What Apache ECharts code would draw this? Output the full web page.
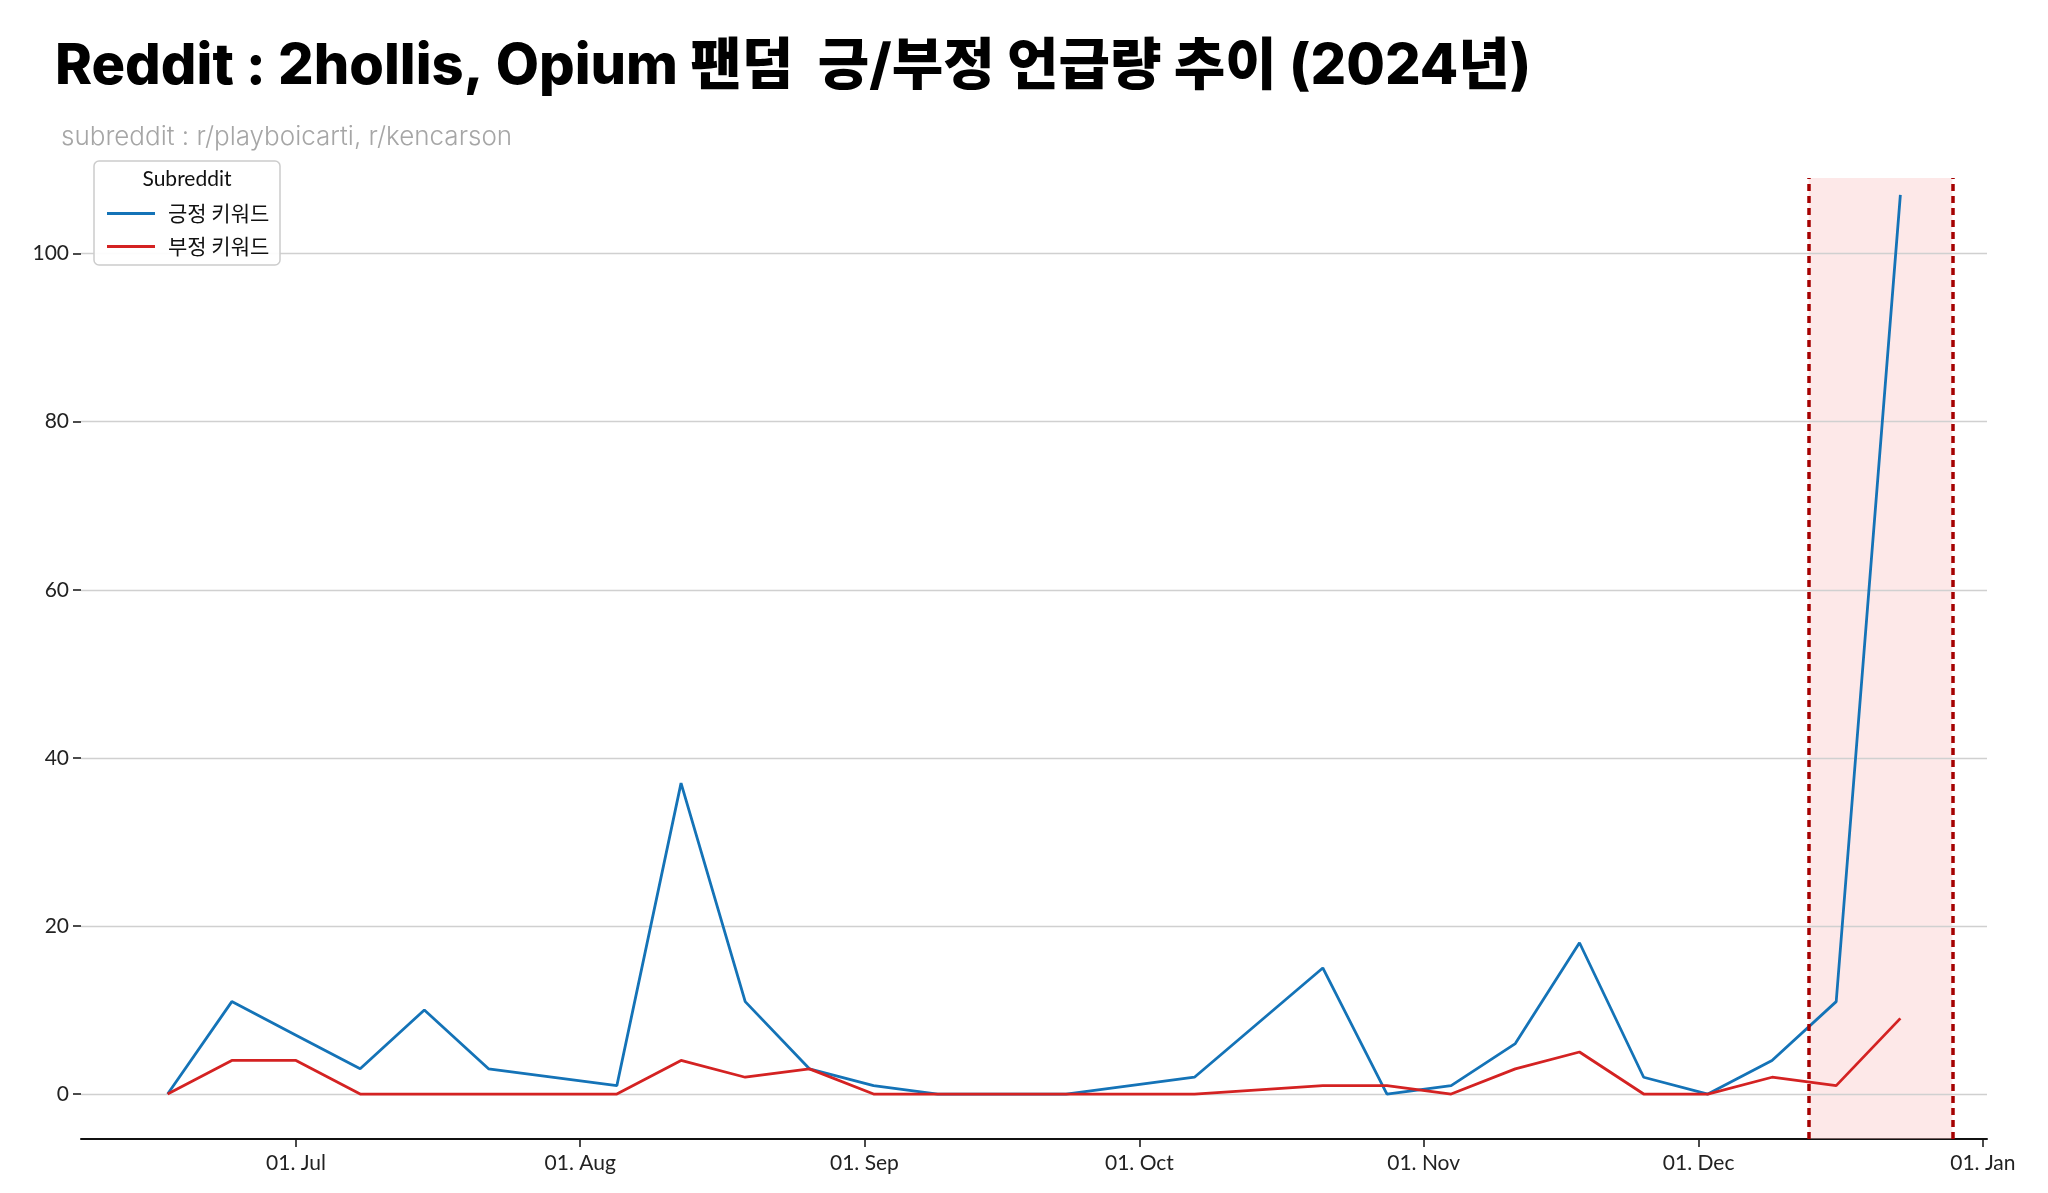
<!DOCTYPE html>
<html>
<head>
<meta charset="utf-8">
<script src="https://cdn.jsdelivr.net/npm/echarts@6/dist/echarts.min.js"></script>
<style>
html,body{margin:0;padding:0;background:#fff;}
#chart{width:2048px;height:1193px;}
</style>
</head>
<body>
<div id="chart"></div>
<script>
// ---- data ----
const weeks = ['2024-06-17','2024-06-24','2024-07-01','2024-07-08','2024-07-15','2024-07-22',
  '2024-08-05','2024-08-12','2024-08-19','2024-08-26','2024-09-02','2024-09-09','2024-09-16',
  '2024-09-23','2024-10-07','2024-10-21','2024-10-28','2024-11-04','2024-11-11','2024-11-18',
  '2024-11-25','2024-12-02','2024-12-09','2024-12-16','2024-12-23'];
const positive = [0,11,7,3,10,3,1,37,11,3,1,0,0,0,2,15,0,1,6,18,2,0,4,11,107];
const negative = [0,4,4,0,0,0,0,4,2,3,0,0,0,0,0,1,1,0,3,5,0,0,2,1,9];
const seriesNames = ['긍정 키워드','부정 키워드'];
const xTickDates = ['2024-07-01','2024-08-01','2024-09-01','2024-10-01','2024-11-01','2024-12-01','2025-01-01'];
const xTickLabels = ['01. Jul','01. Aug','01. Sep','01. Oct','01. Nov','01. Dec','01. Jan'];
const yTicks = [0,20,40,60,80,100];
const highlightStart = '2024-12-13';
const highlightEnd = '2024-12-28T16:00';

const T = s => new Date(s.length > 10 ? s + ':00Z' : s + 'T00:00:00Z').getTime();
const tFirst = T(weeks[0]), tLast = T(weeks[weeks.length-1]);
const pad = (tLast - tFirst) * 0.05;
const xTickVals = xTickDates.map(T);

const chart = echarts.init(document.getElementById('chart'), null, {renderer:'canvas'});
const latin = "'Lato', 'Noto Sans CJK KR', sans-serif";
chart.setOption({
  backgroundColor:'#ffffff',
  animation:false,
  title:[
    {text:'Reddit : 2hollis, Opium 팬덤  긍/부정 언급량 추이 (2024년)', left:50, top:34,
     textStyle:{fontFamily:"'Inter', 'Noto Sans CJK KR', sans-serif", fontWeight:800, fontSize:56, color:'#000'}},
    {text:'subreddit : r/playboicarti, r/kencarson', left:56, top:119,
     textStyle:{fontFamily:"'Inter', sans-serif", fontWeight:300, fontSize:26, color:'#a6a6a6'}}
  ],
  grid:{left:81, right:61, top:178, bottom:54, containLabel:false},
  legend:{
    data:seriesNames, orient:'vertical', left:102, top:198, z:60,
    icon:'rect', itemWidth:48, itemHeight:3, itemGap:12,
    textStyle:{fontFamily:"'Noto Sans CJK KR', sans-serif", fontSize:21, color:'#111', lineHeight:21, padding:[0,0,0,8]}
  },
  graphic:[
    {type:'rect', z:50, shape:{x:94, y:161, width:186, height:104, r:5},
     style:{fill:'rgba(255,255,255,0.92)', stroke:'#cccccc', lineWidth:1.5}},
    {type:'text', z:51, x:187, y:179, style:{text:'Subreddit', fontFamily:latin, fontSize:21, fill:'#111', align:'center', verticalAlign:'middle'}}
  ],
  xAxis:{
    type:'value', min:tFirst - pad, max:tLast + pad,
    splitLine:{show:false},
    axisLine:{show:true, onZero:false, lineStyle:{color:'#111', width:2}},
    axisTick:{show:true, customValues:xTickVals, length:8, lineStyle:{color:'#111', width:1.5}},
    axisLabel:{customValues:xTickVals, margin:14, fontFamily:latin, fontSize:21, color:'#222',
      formatter:v => { const i = xTickVals.indexOf(v); return i >= 0 ? xTickLabels[i] : ''; }}
  },
  yAxis:{
    type:'value', min:-5.35, max:109,
    splitLine:{show:false},
    axisLine:{show:false},
    axisTick:{show:true, customValues:yTicks, length:8, lineStyle:{color:'#111', width:1.5}},
    axisLabel:{customValues:yTicks, margin:12, fontFamily:latin, fontSize:21, color:'#222'}
  },
  series:[
    {name:'grid', type:'line', data:[], silent:true, z:0,
     markLine:{silent:true, symbol:'none', z:1, label:{show:false},
       lineStyle:{color:'#d0d0d0', width:1.3, type:'solid'},
       data:yTicks.map(v => ({yAxis:v}))}},
    {name:'highlight', type:'line', data:[], silent:true, z:1,
     markArea:{silent:true, z:1, itemStyle:{color:'rgba(250,200,200,0.42)'},
       data:[[{xAxis:T(highlightStart)},{xAxis:T(highlightEnd)}]]},
     markLine:{silent:true, symbol:'none', z:6, label:{show:false},
       lineStyle:{color:'#a50000', width:3.5, type:[7,5]},
       data:[{xAxis:T(highlightStart)},{xAxis:T(highlightEnd)}]}},
    {name:seriesNames[0], type:'line', z:3, showSymbol:false, symbol:'none',
     lineStyle:{color:'#1473b7', width:2.8}, itemStyle:{color:'#1473b7'},
     data:weeks.map((d,i)=>[T(d), positive[i]])},
    {name:seriesNames[1], type:'line', z:4, showSymbol:false, symbol:'none',
     lineStyle:{color:'#d42222', width:2.8}, itemStyle:{color:'#d42222'},
     data:weeks.map((d,i)=>[T(d), negative[i]])}
  ]
});
</script>
</body>
</html>
